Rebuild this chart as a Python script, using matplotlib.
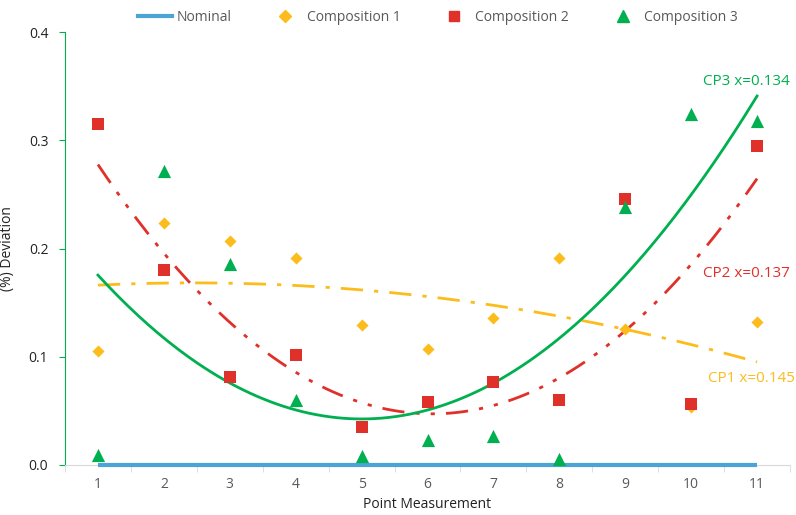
import numpy as np
import matplotlib
matplotlib.use("Agg")
import matplotlib.pyplot as plt
from matplotlib.lines import Line2D

plt.rcParams['font.family'] = ['Open Sans', 'DejaVu Sans']

points = [1, 2, 3, 4, 5, 6, 7, 8, 9, 10, 11]
nominal = [0, 0, 0, 0, 0, 0, 0, 0, 0, 0, 0]
comp1 = [0.105, 0.224, 0.207, 0.191, 0.129, 0.107, 0.136, 0.191, 0.126, 0.054, 0.132]
comp2 = [0.315, 0.180, 0.081, 0.102, 0.035, 0.058, 0.077, 0.060, 0.246, 0.056, 0.295]
comp3 = [0.009, 0.272, 0.186, 0.060, 0.008, 0.023, 0.027, 0.006, 0.238, 0.324, 0.318]
cp_labels = ["CP1 x=0.145", "CP2 x=0.137", "CP3 x=0.134"]

c_blue = '#4BA3D6'
c_yel = '#FBBC1C'
c_red = '#E0302A'
c_grn = '#00B050'
gray = '#595959'

fig = plt.figure(figsize=(7.96, 5.15), dpi=100)
ax = fig.add_axes([65/796, (515-465)/515, (790-65)/796, (465-32)/515])

x = np.array(points)
ax.plot(x, nominal, color=c_blue, lw=3, solid_capstyle='butt', zorder=3, clip_on=False)
ax.scatter(x, comp1, marker='D', s=38, color=c_yel, zorder=4, linewidths=0, clip_on=False)
ax.scatter(x, comp2, marker='s', s=70, color=c_red, zorder=4, linewidths=0, clip_on=False)
ax.scatter(x, comp3, marker='^', s=90, color=c_grn, zorder=4, linewidths=0, clip_on=False)

# second order trend lines
xs = np.linspace(1, 11, 200)
f1 = np.polyval(np.polyfit(x, comp1, 2), xs)
f2 = np.polyval(np.polyfit(x, comp2, 2), xs)
f3 = np.polyval(np.polyfit(x, comp3, 2), xs)
ax.plot(xs, f1, color=c_yel, lw=2, dashes=[8, 4, 1.5, 4], zorder=2)
ax.plot(xs, f2, color=c_red, lw=2, dashes=[8, 4, 1.5, 4, 1.5, 4], zorder=2)
ax.plot(xs, f3, color=c_grn, lw=2, zorder=2)

ax.text(11.57, 0.080, cp_labels[0], color=c_yel, fontsize=11, ha='right', va='center', clip_on=False)
ax.text(11.5, 0.177, cp_labels[1], color=c_red, fontsize=11, ha='right', va='center')
ax.text(11.5, 0.354, cp_labels[2], color=c_grn, fontsize=11, ha='right', va='center')

ax.set_xlim(0.5, 11.5)
ax.set_ylim(0, 0.4)
ax.set_xticks(points)
ax.set_xticks(np.arange(0.5, 12, 1), minor=True)
ax.set_yticks([0, 0.1, 0.2, 0.3, 0.4])
ax.set_yticklabels(['0.0', '0.1', '0.2', '0.3', '0.4'])
ax.tick_params(axis='x', which='major', length=0, pad=9, labelsize=10, labelcolor=gray)
ax.tick_params(axis='x', which='minor', length=5, color='#d9d9d9')
ax.tick_params(axis='y', length=4, color=c_grn, labelsize=10, labelcolor='#222222', pad=8)

for s in ['top', 'right']:
    ax.spines[s].set_visible(False)
ax.spines['left'].set_color(c_grn)
ax.spines['bottom'].set_color('#d9d9d9')

ax.set_xlabel('Point Measurement', fontsize=10, color='#222222', labelpad=3)
ax.set_ylabel('(%) Deviation', fontsize=10, color='#222222', labelpad=10)

handles = [
    Line2D([], [], color=c_blue, lw=3),
    Line2D([], [], marker='D', ls='', color=c_yel, markersize=6),
    Line2D([], [], marker='s', ls='', color=c_red, markersize=7),
    Line2D([], [], marker='^', ls='', color=c_grn, markersize=8),
]
leg = fig.legend(handles, ['Nominal', 'Composition 1', 'Composition 2', 'Composition 3'],
                 loc='upper center', bbox_to_anchor=(0.55, 1.005), ncol=4, frameon=False,
                 fontsize=10, handlelength=2.5, columnspacing=2.6, handletextpad=0.3)
for t in leg.get_texts():
    t.set_color(gray)

fig.savefig('out.png', dpi=100)
